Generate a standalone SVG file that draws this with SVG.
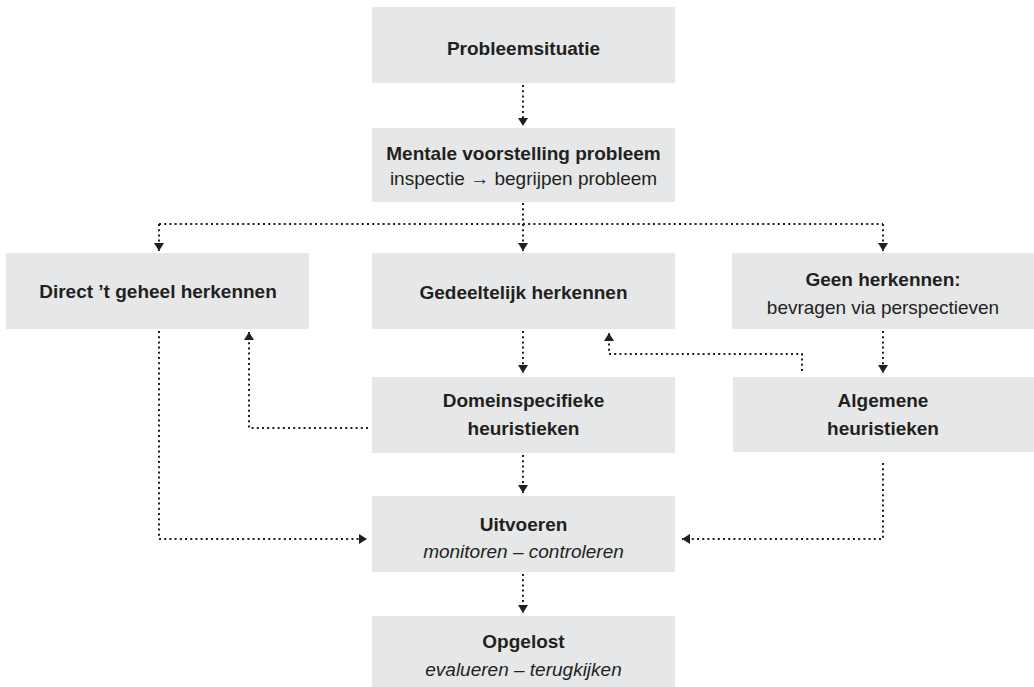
<svg xmlns="http://www.w3.org/2000/svg" width="1034" height="687" viewBox="0 0 1034 687">
<defs>
<style>
.box{fill:#e6e7e8}
.t{font-family:"Liberation Sans",Arial,sans-serif;font-size:19px;fill:#231f20;text-anchor:middle}
.b{font-weight:bold}
.i{font-style:italic}
.c{fill:none;stroke:#231f20;stroke-width:2;stroke-dasharray:2 3.2;marker-end:url(#ah)}
.cn{fill:none;stroke:#231f20;stroke-width:2;stroke-dasharray:2 3.2}
</style>
<marker id="ah" markerUnits="userSpaceOnUse" markerWidth="9" markerHeight="10" refX="8" refY="5" orient="auto" viewBox="0 0 9 10">
<path d="M0,0 L8,5 L0,10 z" fill="#231f20"/>
</marker>
</defs>
<rect width="1034" height="687" fill="#ffffff"/>
<g id="connectors">
<path class="c" d="M523,85 V126"/>
<path class="cn" d="M523,203 V224"/>
<path class="cn" d="M159,224 H883"/>
<path class="c" d="M159,224 V251"/>
<path class="c" d="M523,224 V251"/>
<path class="c" d="M883,224 V251"/>
<path class="c" d="M523,331 V373"/>
<path class="c" d="M883,331 V373"/>
<path class="c" d="M368,428 H249 V332"/>
<path class="c" d="M802,371 V354 H609 V333"/>
<path class="c" d="M159,331 V539 H367"/>
<path class="c" d="M523,455 V493"/>
<path class="c" d="M883,463 V539 H682"/>
<path class="c" d="M523,574 V613"/>
</g>
<g id="probleemsituatie">
<rect class="box" x="372" y="7" width="303" height="76"/>
<text class="t b" x="523.5" y="55">Probleemsituatie</text>
</g>
<g id="mentale">
<rect class="box" x="372" y="128" width="303" height="74"/>
<text class="t b" x="523.5" y="160">Mentale voorstelling probleem</text>
<text class="t" x="523.5" y="185">inspectie → begrijpen probleem</text>
</g>
<g id="direct">
<rect class="box" x="6" y="253" width="303" height="76"/>
<text class="t b" x="158" y="298">Direct ’t geheel herkennen</text>
</g>
<g id="gedeeltelijk">
<rect class="box" x="372" y="253" width="303" height="76"/>
<text class="t b" x="523.5" y="299">Gedeeltelijk herkennen</text>
</g>
<g id="geen">
<rect class="box" x="732" y="253" width="302" height="76"/>
<text class="t b" x="883" y="286">Geen herkennen:</text>
<text class="t" x="883" y="314">bevragen via perspectieven</text>
</g>
<g id="domein">
<rect class="box" x="372" y="377" width="303" height="76"/>
<text class="t b" x="523.5" y="407">Domeinspecifieke</text>
<text class="t b" x="523.5" y="435">heuristieken</text>
</g>
<g id="algemeen">
<rect class="box" x="733" y="377" width="301" height="75"/>
<text class="t b" x="883" y="407">Algemene</text>
<text class="t b" x="883" y="435">heuristieken</text>
</g>
<g id="uitvoeren">
<rect class="box" x="372" y="496" width="303" height="76"/>
<text class="t b" x="523.5" y="531">Uitvoeren</text>
<text class="t i" x="523.5" y="558">monitoren – controleren</text>
</g>
<g id="opgelost">
<rect class="box" x="372" y="616" width="303" height="71"/>
<text class="t b" x="523.5" y="648">Opgelost</text>
<text class="t i" x="523.5" y="676">evalueren – terugkijken</text>
</g>
</svg>
